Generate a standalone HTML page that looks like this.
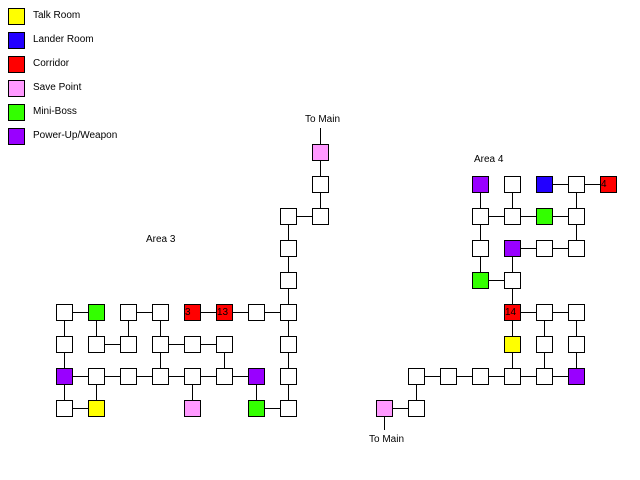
<!DOCTYPE html>
<html><head><meta charset="utf-8"><style>
html,body{margin:0;padding:0;background:#fff;width:640px;height:480px;overflow:hidden}
svg{display:block}
text{font-family:"Liberation Sans",sans-serif;font-size:10px;fill:#000}
</style></head><body>
<svg width="640" height="480" viewBox="0 0 640 480" xmlns="http://www.w3.org/2000/svg">
<g stroke="#000" stroke-width="1" fill="none">
<!-- Area 3 lines -->
<path d="M64.5 312.5H96.5M128.5 312.5H160.5M192.5 312.5H288.5
M64.5 312.5V408.5M96.5 312.5V344.5M128.5 312.5V344.5M160.5 312.5V376.5
M96.5 344.5H128.5M160.5 344.5H224.5M224.5 344.5V376.5
M64.5 376.5H256.5M96.5 376.5V408.5M192.5 376.5V408.5M256.5 376.5V408.5
M64.5 408.5H96.5M256.5 408.5H288.5
M288.5 216.5V408.5M288.5 216.5H320.5M320.5 216.5V128"/>
<!-- Area 4 lines -->
<path d="M544.5 184.5H608.5M480.5 184.5V280.5M512.5 184.5V216.5M576.5 184.5V248.5
M480.5 216.5H576.5M512.5 248.5H576.5M512.5 248.5V376.5M480.5 280.5H512.5
M512.5 312.5H576.5M544.5 312.5V376.5M576.5 312.5V376.5
M416.5 376.5H576.5M416.5 376.5V408.5M384.5 408.5H416.5M384.5 408.5V430"/>
</g>
<g stroke="#000" stroke-width="1">
<!-- legend -->
<rect x="8.5" y="8.5" width="16" height="16" fill="#ffff00"/>
<rect x="8.5" y="32.5" width="16" height="16" fill="#2200ff"/>
<rect x="8.5" y="56.5" width="16" height="16" fill="#ff0000"/>
<rect x="8.5" y="80.5" width="16" height="16" fill="#ff99ff"/>
<rect x="8.5" y="104.5" width="16" height="16" fill="#33ff00"/>
<rect x="8.5" y="128.5" width="16" height="16" fill="#9900ff"/>
<!-- Area 3 boxes -->
<rect x="56.5" y="304.5" width="16" height="16" fill="#fff"/>
<rect x="88.5" y="304.5" width="16" height="16" fill="#33ff00"/>
<rect x="120.5" y="304.5" width="16" height="16" fill="#fff"/>
<rect x="152.5" y="304.5" width="16" height="16" fill="#fff"/>
<rect x="184.5" y="304.5" width="16" height="16" fill="#ff0000"/>
<rect x="216.5" y="304.5" width="16" height="16" fill="#ff0000"/>
<rect x="248.5" y="304.5" width="16" height="16" fill="#fff"/>
<rect x="280.5" y="304.5" width="16" height="16" fill="#fff"/>
<rect x="56.5" y="336.5" width="16" height="16" fill="#fff"/>
<rect x="88.5" y="336.5" width="16" height="16" fill="#fff"/>
<rect x="120.5" y="336.5" width="16" height="16" fill="#fff"/>
<rect x="152.5" y="336.5" width="16" height="16" fill="#fff"/>
<rect x="184.5" y="336.5" width="16" height="16" fill="#fff"/>
<rect x="216.5" y="336.5" width="16" height="16" fill="#fff"/>
<rect x="280.5" y="336.5" width="16" height="16" fill="#fff"/>
<rect x="56.5" y="368.5" width="16" height="16" fill="#9900ff"/>
<rect x="88.5" y="368.5" width="16" height="16" fill="#fff"/>
<rect x="120.5" y="368.5" width="16" height="16" fill="#fff"/>
<rect x="152.5" y="368.5" width="16" height="16" fill="#fff"/>
<rect x="184.5" y="368.5" width="16" height="16" fill="#fff"/>
<rect x="216.5" y="368.5" width="16" height="16" fill="#fff"/>
<rect x="248.5" y="368.5" width="16" height="16" fill="#9900ff"/>
<rect x="280.5" y="368.5" width="16" height="16" fill="#fff"/>
<rect x="56.5" y="400.5" width="16" height="16" fill="#fff"/>
<rect x="88.5" y="400.5" width="16" height="16" fill="#ffff00"/>
<rect x="184.5" y="400.5" width="16" height="16" fill="#ff99ff"/>
<rect x="248.5" y="400.5" width="16" height="16" fill="#33ff00"/>
<rect x="280.5" y="400.5" width="16" height="16" fill="#fff"/>
<rect x="280.5" y="272.5" width="16" height="16" fill="#fff"/>
<rect x="280.5" y="240.5" width="16" height="16" fill="#fff"/>
<rect x="280.5" y="208.5" width="16" height="16" fill="#fff"/>
<rect x="312.5" y="208.5" width="16" height="16" fill="#fff"/>
<rect x="312.5" y="176.5" width="16" height="16" fill="#fff"/>
<rect x="312.5" y="144.5" width="16" height="16" fill="#ff99ff"/>
<!-- Area 4 boxes -->
<rect x="472.5" y="176.5" width="16" height="16" fill="#9900ff"/>
<rect x="504.5" y="176.5" width="16" height="16" fill="#fff"/>
<rect x="536.5" y="176.5" width="16" height="16" fill="#2200ff"/>
<rect x="568.5" y="176.5" width="16" height="16" fill="#fff"/>
<rect x="600.5" y="176.5" width="16" height="16" fill="#ff0000"/>
<rect x="472.5" y="208.5" width="16" height="16" fill="#fff"/>
<rect x="504.5" y="208.5" width="16" height="16" fill="#fff"/>
<rect x="536.5" y="208.5" width="16" height="16" fill="#33ff00"/>
<rect x="568.5" y="208.5" width="16" height="16" fill="#fff"/>
<rect x="472.5" y="240.5" width="16" height="16" fill="#fff"/>
<rect x="504.5" y="240.5" width="16" height="16" fill="#9900ff"/>
<rect x="536.5" y="240.5" width="16" height="16" fill="#fff"/>
<rect x="568.5" y="240.5" width="16" height="16" fill="#fff"/>
<rect x="472.5" y="272.5" width="16" height="16" fill="#33ff00"/>
<rect x="504.5" y="272.5" width="16" height="16" fill="#fff"/>
<rect x="504.5" y="304.5" width="16" height="16" fill="#ff0000"/>
<rect x="536.5" y="304.5" width="16" height="16" fill="#fff"/>
<rect x="568.5" y="304.5" width="16" height="16" fill="#fff"/>
<rect x="504.5" y="336.5" width="16" height="16" fill="#ffff00"/>
<rect x="536.5" y="336.5" width="16" height="16" fill="#fff"/>
<rect x="568.5" y="336.5" width="16" height="16" fill="#fff"/>
<rect x="408.5" y="368.5" width="16" height="16" fill="#fff"/>
<rect x="440.5" y="368.5" width="16" height="16" fill="#fff"/>
<rect x="472.5" y="368.5" width="16" height="16" fill="#fff"/>
<rect x="504.5" y="368.5" width="16" height="16" fill="#fff"/>
<rect x="536.5" y="368.5" width="16" height="16" fill="#fff"/>
<rect x="568.5" y="368.5" width="16" height="16" fill="#9900ff"/>
<rect x="376.5" y="400.5" width="16" height="16" fill="#ff99ff"/>
<rect x="408.5" y="400.5" width="16" height="16" fill="#fff"/>
</g>
<text x="33" y="18">Talk Room</text>
<text x="33" y="42">Lander Room</text>
<text x="33" y="66">Corridor</text>
<text x="33" y="90">Save Point</text>
<text x="33" y="114">Mini-Boss</text>
<text x="33" y="138">Power-Up/Weapon</text>
<text x="146" y="242">Area 3</text>
<text x="474" y="162">Area 4</text>
<text x="305" y="122">To Main</text>
<text x="369" y="442">To Main</text>
<text x="185" y="315">3</text>
<text x="217" y="315">13</text>
<text x="601" y="187">4</text>
<text x="505" y="315">14</text>
</svg>
</body></html>
